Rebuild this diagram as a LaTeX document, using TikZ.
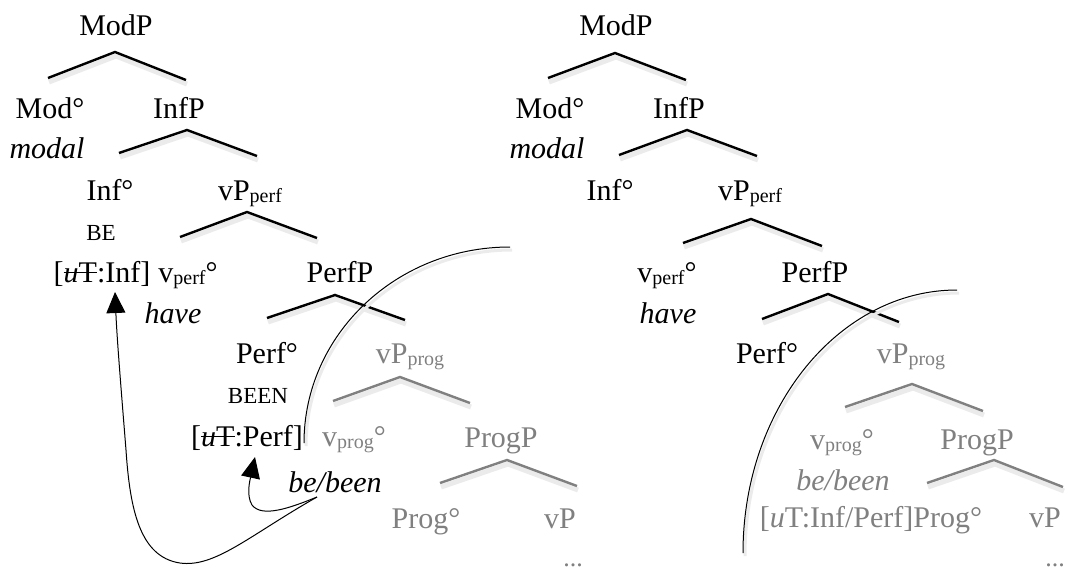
\documentclass[tikz,border=0pt]{standalone}
\usepackage{fontspec}
\setmainfont{Liberation Serif}
\usetikzlibrary{arrows.meta,calc}
\definecolor{gry}{RGB}{128,128,128}
\newsavebox\strkbox
\newcommand\strk[1]{\sbox\strkbox{#1}\rlap{\rule[0.3em]{\wd\strkbox}{1.3pt}}\usebox\strkbox}
\newcommand\lsub[1]{\raisebox{-2.5pt}{\fontsize{20}{20}\selectfont #1}}
\newcommand\myroof[4]{%
  \draw[shad,shift={(1,4)}] #2 -- #3 -- #4;
  \draw[#1] #2 -- #3 -- #4;}
\tikzset{
  lbl/.style={anchor=base, inner sep=0pt, outer sep=0pt, font=\fontsize{30}{32}\selectfont},
  glbl/.style={lbl, text=gry},
  sml/.style={lbl, font=\fontsize{23}{25}\selectfont},
  dts/.style={lbl, font=\fontsize{26}{28}\selectfont, text depth=0pt, text height=4pt},
  roof/.style={line width=2.4pt, line join=miter, line cap=butt},
  groof/.style={roof, draw=gry},
  shad/.style={line width=5pt, draw=black!8},
  cshad/.style={line width=3pt, draw=black!8},
  curve/.style={line width=1pt},
  mv/.style={curve, -{Triangle[length=21pt,width=19pt]}},
}
\begin{document}
\begin{tikzpicture}[x=1pt,y=-1pt]
\useasboundingbox (0,0) rectangle (1070,571);
% ---------- left tree ----------
\myroof{roof}{(48,78)}{(115,52)}{(186,80)}
\myroof{roof}{(119,153)}{(187,130)}{(257,156)}
\myroof{roof}{(180,237)}{(247,212)}{(317,238)}
\myroof{roof}{(267,318)}{(335,295)}{(405,320)}
\myroof{groof}{(333,401)}{(400,377)}{(470,403)}
\myroof{groof}{(440,483)}{(507,460)}{(577,486)}

\node[lbl] (mp1) at (116,35) {ModP};
\node[lbl] (mod1) at (50,118) {Mod°};
\node[lbl] (infp1) at (179,118) {InfP};
\node[lbl] (modal1) at (47,158) {\itshape modal};
\node[lbl] (inf1) at (110,200) {Inf°};
\node[lbl] (vpp1) at (250,200) {vP\lsub{perf}};
\node[sml] (be1) at (101,240) {BE};
\node[lbl] (ut1) at (102,282) {[\strk{\textit{u}T}:Inf]};
\node[lbl] (vperf1) at (188,282) {v\lsub{perf}°};
\node[lbl] (perfp1) at (340,282) {PerfP};
\node[lbl] (have1) at (173,323) {\itshape have};
\node[lbl] (perf1) at (267,363) {Perf°};
\node[glbl] (vpprog1) at (410,363) {vP\lsub{prog}};
\node[sml] (been1) at (258,403) {BEEN};
\node[lbl] (ut2) at (247,446) {[\strk{\textit{u}T}:Perf]};
\node[glbl] (vprog1) at (354,446) {v\lsub{prog}°};
\node[glbl] (progp1) at (501,447) {ProgP};
\node[lbl] (bb1) at (335,492) {\itshape be/been};
\node[glbl] (prog1) at (426,528) {Prog°};
\node[glbl] (vp1) at (560,528) {vP};
\node[glbl,dts] (dots1) at (573,566) {...};

% boundary arc (left)
\draw[cshad,shift={(2,3)}] (304,443) .. controls (304,335) and (396,247) .. (510,247);
\draw[curve] (304,443) .. controls (304,335) and (396,247) .. (510,247);

% movement arrows
\coordinate (s1) at ($(bb1.base)+(-18,5)$);
\coordinate (t2) at ($(ut2.base)+(8,11)$);
\coordinate (t1) at ($(ut1.base)+(13,10)$);
\draw[mv] (s1) .. controls (290,508) and (262,518) .. (252,505)
  .. controls (246,495) and (250,480) .. (t2);
\draw[mv] (s1) .. controls (250,535) and (215,568) .. (180,563)
  .. controls (140,557) and (130,510) .. (126,450)
  .. controls (122,400) and (117,340) .. (t1);

% ---------- right tree ----------
\myroof{roof}{(548,78)}{(615,53)}{(686,80)}
\myroof{roof}{(619,155)}{(687,130)}{(757,156)}
\myroof{roof}{(683,243)}{(751,219)}{(822,246)}
\myroof{roof}{(762,319)}{(828,294)}{(899,322)}
\myroof{groof}{(845,407)}{(912,384)}{(983,411)}
\myroof{groof}{(927,483)}{(994,460)}{(1063,487)}

\node[lbl] (mp2) at (616,35) {ModP};
\node[lbl] (mod2) at (550,118) {Mod°};
\node[lbl] (infp2) at (679,118) {InfP};
\node[lbl] (modal2) at (547,158) {\itshape modal};
\node[lbl] (inf2) at (610,200) {Inf°};
\node[lbl] (vpp2) at (750,200) {vP\lsub{perf}};
\node[lbl] (vperf2) at (667,282) {v\lsub{perf}°};
\node[lbl] (perfp2) at (815,282) {PerfP};
\node[lbl] (have2) at (668,323) {\itshape have};
\node[lbl] (perf2) at (767,363) {Perf°};
\node[glbl] (vpprog2) at (911,363) {vP\lsub{prog}};
\node[glbl] (vprog2) at (842,449) {v\lsub{prog}°};
\node[glbl] (progp2) at (977,449) {ProgP};
\node[glbl] (bb2) at (843,490) {\itshape be/been};
\node[glbl] (ut3) at (871,527) {[\textit{u}T:Inf/Perf]Prog°};
\node[glbl] (vp2) at (1045,527) {vP};
\node[glbl,dts] (dots2) at (1055,566) {...};

% boundary arc (right)
\draw[cshad,shift={(2,3)}] (743,553) .. controls (743,408) and (839,290) .. (957,290);
\draw[curve] (743,553) .. controls (743,408) and (839,290) .. (957,290);
\end{tikzpicture}
\end{document}
